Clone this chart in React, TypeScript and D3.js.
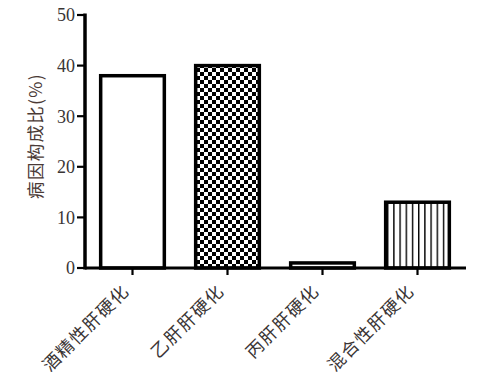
import React from "react";
import * as d3 from "d3";

const categories = ["酒精性肝硬化", "乙肝肝硬化", "丙肝肝硬化", "混合性肝硬化"];
const values = [38, 40, 1, 13];
const patterns = ["none", "checker", "none", "stripes"];
const yTicks = [0, 10, 20, 30, 40, 50];
const yTitle = "病因构成比(%)";

const W = 486;
const H = 375;
const left = 85;
const right = 466;
const top = 15;
const bottom = 268;

export default function App() {
  const x = d3.scaleBand<string>().domain(categories).range([left, right - 1]).paddingInner(0.33).paddingOuter(0.165);
  const xc = d3.scaleBand<string>().domain(categories).range([left, right - 1]).padding(0);
  const y = d3.scaleLinear().domain([0, 50]).range([bottom, top]);
  const textColor = "#3a3535";
  const serif = "'Liberation Serif', 'Times New Roman', serif";
  const cjk = "'Noto Sans CJK SC', 'Liberation Serif', sans-serif";

  return (
    <svg width={W} height={H} style={{ position: "absolute", left: 0, top: 0, background: "#fff" }}>
      <defs>
        <pattern id="checker" width={8} height={8} patternUnits="userSpaceOnUse">
          <rect width={8} height={8} fill="#fff" />
          <rect x={0} y={0} width={4} height={4} fill="#000" />
          <rect x={4} y={4} width={4} height={4} fill="#000" />
        </pattern>
        <pattern id="stripes" width={6.2} height={10} patternUnits="userSpaceOnUse" x={387}>
          <rect width={6.2} height={10} fill="#fff" />
          <rect x={0} y={0} width={1.4} height={10} fill="#000" />
        </pattern>
      </defs>
      <rect width={W} height={H} fill="#fff" />
      {categories.map((c, i) => {
        const x0 = x(c)!;
        const bw = x.bandwidth();
        const y0 = y(values[i]);
        const fill = patterns[i] === "none" ? "#fff" : `url(#${patterns[i]})`;
        return (
          <rect key={c} x={x0} y={y0} width={bw} height={bottom - y0} fill={fill} stroke="#000" strokeWidth={3.5} />
        );
      })}
      {/* y axis */}
      <line x1={left} x2={left} y1={top - 1.5} y2={bottom + 1.5} stroke="#000" strokeWidth={3.5} />
      {yTicks.map((t) => (
        <g key={t}>
          <line x1={left - 8} x2={left} y1={y(t)} y2={y(t)} stroke="#000" strokeWidth={2.2} />
          <text x={left - 10} y={y(t)} dy="0.35em" textAnchor="end" fontFamily={serif} fontSize={18} fill={textColor}>
            {t}
          </text>
        </g>
      ))}
      {/* x axis */}
      <line x1={left} x2={right} y1={bottom} y2={bottom} stroke="#000" strokeWidth={3} />
      {categories.map((c) => {
        const cx = xc(c)! + xc.bandwidth() / 2;
        return (
          <g key={c}>
            <line x1={cx} x2={cx} y1={bottom} y2={bottom + 7} stroke="#000" strokeWidth={2.2} />
            <text
              transform={`translate(${cx - 2},${bottom + 24}) rotate(-45)`}
              textAnchor="end"
              fontFamily={cjk}
              fontSize={17.5}
              letterSpacing={1.5}
              fill={textColor}
            >
              {c}
            </text>
          </g>
        );
      })}
      <text
        transform={`translate(42,${136}) rotate(-90)`}
        textAnchor="middle"
        fontFamily={cjk}
        fontSize={17.5}
        letterSpacing={1.3}
        fill="#4a3a36"
      >
        {yTitle}
      </text>
    </svg>
  );
}
